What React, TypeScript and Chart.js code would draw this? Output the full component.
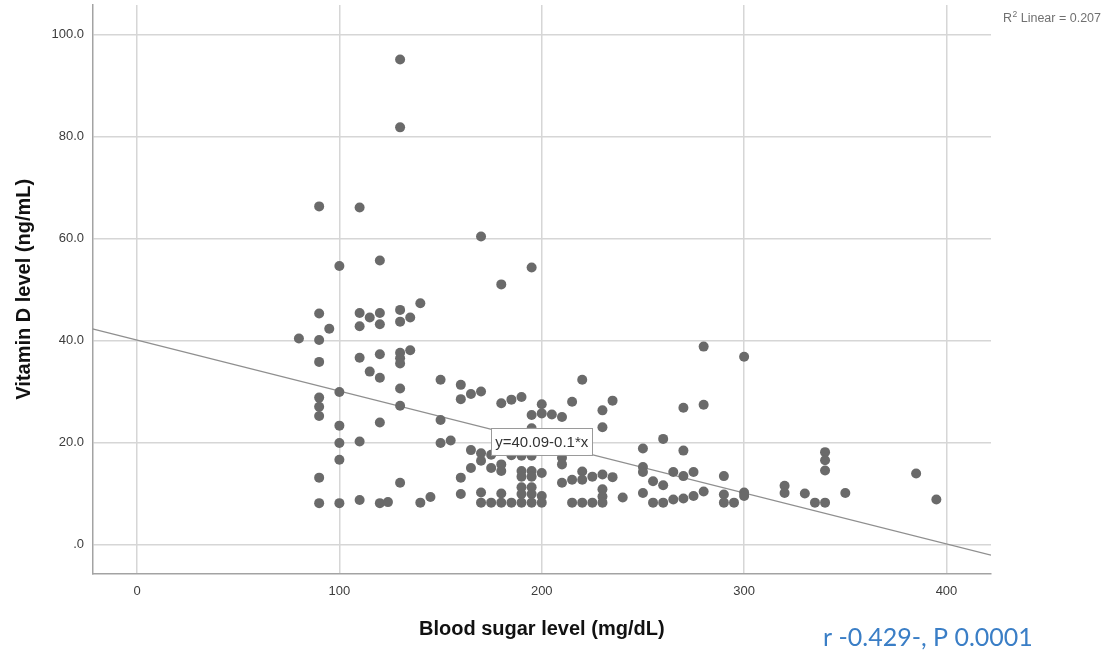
import React, { useEffect, useRef } from "react";
import { Chart, registerables } from "chart.js";

Chart.register(...registerables);

// Blood sugar level (mg/dL)
const bloodSugar = [
  130, 130, 90, 110, 170, 100, 120, 195, 180,
  90, 110, 115, 120, 110, 120, 130, 135, 130, 140, 95, 80, 90,
  90, 110, 120, 130, 130, 130, 135, 280, 300,
  115, 120, 130, 100, 90, 90, 90, 130, 150, 160, 160, 165, 170, 180, 185, 190, 200, 195, 200, 205, 210, 220, 215, 235, 230, 230, 270, 280,
  150, 120, 100, 100, 110, 150, 155, 165, 195, 170, 175, 185, 190, 195, 210, 260, 250, 270, 340,
  165, 100, 90, 130, 160, 170, 175, 180, 180, 190, 190, 195, 195, 200, 210, 210, 215, 220, 220, 225, 230, 235, 250, 250, 255, 265, 270, 275, 290, 340, 340, 385,
  160, 90, 100, 110, 120, 124, 140, 145, 170, 170, 175, 180, 180, 185, 190, 190, 190, 195, 195, 195, 200, 200, 215, 220, 225, 230, 230, 230, 240, 250, 260, 255, 260, 265, 270, 275, 280, 290, 290, 295, 300, 300, 320, 320, 330, 335, 340, 350, 395,
];

// Vitamin D level (ng/mL)
const vitaminD = [
  95.1, 81.8, 66.3, 66.1, 60.4, 54.6, 55.7, 54.3, 51.0,
  45.3, 45.4, 44.5, 45.4, 42.8, 43.2, 46.0, 44.5, 43.7, 47.3, 42.3, 40.4, 40.1,
  35.8, 36.6, 37.3, 37.6, 36.5, 35.5, 38.1, 38.8, 36.8,
  33.9, 32.7, 30.6, 29.9, 28.8, 27.0, 25.2, 27.2, 32.3, 31.3, 28.5, 29.5, 30.0, 27.7, 28.4, 28.9, 27.5, 25.4, 25.7, 25.5, 25.0, 32.3, 28.0, 28.2, 26.3, 23.0, 26.8, 27.4,
  24.4, 23.9, 23.3, 19.9, 20.2, 19.9, 20.4, 18.5, 22.8, 17.9, 17.6, 17.5, 17.4, 17.4, 17.0, 20.7, 18.8, 18.4, 18.1,
  15.0, 16.6, 13.1, 12.1, 13.1, 16.4, 15.0, 15.7, 14.4, 14.4, 13.3, 14.4, 13.3, 14.0, 15.7, 12.1, 12.7, 14.3, 12.7, 13.3, 13.7, 13.2, 15.2, 14.2, 12.4, 14.2, 13.4, 14.2, 13.4, 16.5, 14.5, 13.9,
  9.9, 8.1, 8.1, 8.7, 8.1, 8.3, 8.2, 9.3, 10.2, 8.2, 8.2, 10.0, 8.2, 8.2, 11.2, 9.9, 8.2, 11.2, 9.9, 8.2, 9.5, 8.2, 8.2, 8.2, 8.2, 10.8, 9.4, 8.2, 9.2, 10.1, 11.6, 8.2, 8.2, 8.8, 9.0, 9.5, 10.4, 9.8, 8.2, 8.2, 10.2, 9.5, 11.5, 10.1, 10.0, 8.2, 8.2, 10.1, 8.8,
];

const xTicks = [0, 100, 200, 300, 400];
const yTicks = [0, 20, 40, 60, 80, 100];
const xMin = -22;
const xMax = 422;
const yMin = -5.7;
const yMax = 105.8;

const intercept = 40.09;
const slope = -0.1;
const fitLabel = "y=40.09-0.1*x";
const fitLabelAnchor = { x: 200, y: 20.2 };
const r2Text = " Linear = 0.207";
const statsText = "r -0.429-, P 0.0001";

const FONT = "'Liberation Sans', Arial, sans-serif";

const annotations = {
  id: "annotations",
  afterDatasetsDraw(chart: any) {
    const ctx = chart.ctx;
    const xs = chart.scales.x;
    const ys = chart.scales.y;
    const cx = xs.getPixelForValue(fitLabelAnchor.x);
    const cy = ys.getPixelForValue(fitLabelAnchor.y);
    ctx.save();
    ctx.font = `15px ${FONT}`;
    const tw = ctx.measureText(fitLabel).width;
    const bw = tw + 8;
    const bh = 27;
    ctx.fillStyle = "#ffffff";
    ctx.fillRect(cx - bw / 2, cy - bh / 2, bw, bh);
    ctx.strokeStyle = "#9a9a9a";
    ctx.lineWidth = 1;
    ctx.strokeRect(Math.round(cx - bw / 2) + 0.5, Math.round(cy - bh / 2) + 0.5, Math.round(bw), bh);
    ctx.fillStyle = "#333333";
    ctx.textAlign = "center";
    ctx.textBaseline = "middle";
    ctx.fillText(fitLabel, cx, cy + 1);
    ctx.restore();
  },
  afterDraw(chart: any) {
    const ctx = chart.ctx;
    ctx.save();
    ctx.fillStyle = "#707070";
    ctx.textBaseline = "alphabetic";
    ctx.textAlign = "left";
    let x = 1003;
    const base = 22;
    ctx.font = `12.5px ${FONT}`;
    ctx.fillText("R", x, base);
    x += ctx.measureText("R").width;
    ctx.font = `8.5px ${FONT}`;
    ctx.fillText("2", x + 0.5, base - 5);
    x += ctx.measureText("2").width + 0.5;
    ctx.font = `12.5px ${FONT}`;
    ctx.fillText(r2Text, x, base);
    ctx.font = `25px Lato, ${FONT}`;
    ctx.fillStyle = "#3a7ec6";
    ctx.fillText(statsText, 823, 646);
    ctx.restore();
  },
};

export default function App() {
  const ref = useRef<HTMLCanvasElement | null>(null);

  useEffect(() => {
    if (!ref.current) return;
    Chart.defaults.font.family = FONT;
    const points = bloodSugar.map((x, i) => ({ x, y: vitaminD[i] }));
    const fitLine = [
      { x: xMin, y: intercept + slope * xMin },
      { x: xMax, y: intercept + slope * xMax },
    ];
    const chart = new Chart(ref.current, {
      type: "scatter",
      data: {
        datasets: [
          {
            label: "Vitamin D",
            data: points,
            backgroundColor: "#6a6a6a",
            borderColor: "#6a6a6a",
            borderWidth: 0,
            pointRadius: 5,
            order: 0,
          },
          {
            type: "line",
            label: "Linear fit",
            data: fitLine,
            borderColor: "#8f8f8f",
            borderWidth: 1.2,
            pointRadius: 0,
            fill: false,
            order: 1,
          } as any,
        ],
      },
      options: {
        responsive: false,
        animation: false,
        events: [],
        layout: { padding: { top: 3.3, right: 118, left: 0, bottom: 0 } },
        plugins: {
          legend: { display: false },
          tooltip: { enabled: false },
        },
        scales: {
          x: {
            type: "linear",
            min: xMin,
            max: xMax,
            afterBuildTicks: (a: any) => {
              a.ticks = xTicks.map((v) => ({ value: v }));
            },
            afterFit: (a: any) => {
              a.height = 79.5;
              a.paddingLeft = 0;
              a.paddingRight = 0;
            },
            grid: { color: "#d6d6d6", lineWidth: 1.5, drawTicks: false },
            border: { color: "#a3a3a3", width: 1.5 },
            ticks: {
              padding: 10,
              color: "#3c3c3c",
              font: { size: 13 },
              callback: (v: any) => String(v),
            },
            title: {
              display: true,
              text: "Blood sugar level (mg/dL)",
              color: "#111111",
              font: { size: 20, weight: "bold" },
              padding: { top: 0, bottom: 12 },
            },
          },
          y: {
            type: "linear",
            min: yMin,
            max: yMax,
            afterBuildTicks: (a: any) => {
              a.ticks = yTicks.map((v) => ({ value: v }));
            },
            afterFit: (a: any) => {
              a.width = 92.5;
              a.paddingTop = 0;
              a.paddingBottom = 0;
            },
            grid: { color: "#d6d6d6", lineWidth: 1.5, drawTicks: false },
            border: { color: "#a3a3a3", width: 1.5 },
            ticks: {
              padding: 8.5,
              color: "#3c3c3c",
              font: { size: 13 },
              callback: (v: any) => (Number(v) === 0 ? ".0" : Number(v).toFixed(1)),
            },
            title: {
              display: true,
              text: "Vitamin D level (ng/mL)",
              color: "#111111",
              font: { size: 20, weight: "bold" },
              padding: { top: 12, bottom: 0 },
            },
          },
        },
      },
      plugins: [annotations],
    });
    return () => chart.destroy();
  }, []);

  return (
    <div style={{ position: "absolute", left: 0, top: 0, width: 1109, height: 653, background: "#ffffff" }}>
      <canvas ref={ref} width={1109} height={653} style={{ display: "block", width: 1109, height: 653 }} />
    </div>
  );
}
